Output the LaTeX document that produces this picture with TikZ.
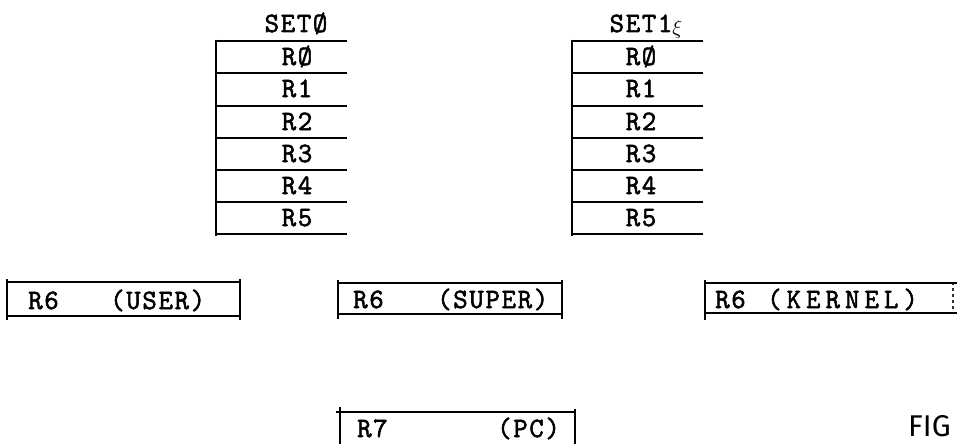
\documentclass[tikz,border=0pt]{standalone}
\usepackage{fontspec}
\newfontfamily\tw[LetterSpace=6,FakeBold=2]{Latin Modern Mono}
\newfontfamily\twk[LetterSpace=18,FakeBold=2]{Latin Modern Mono}
\newfontfamily\hand{Fira Sans}
\begin{document}
\begin{tikzpicture}[x=1pt,y=-1pt,
  rule/.style={line width=1.7pt,black},
  thin rule/.style={line width=1.2pt,black!80},
  lbl/.style={font=\tw\fontsize{28}{28}\selectfont,inner sep=0pt,anchor=base},
  lblw/.style={font=\tw\fontsize{28}{28}\selectfont,inner sep=0pt,anchor=base west}]
\useasboundingbox (0,0) rectangle (957,444);
% ---------- SET0 ----------
\node[lbl] (s0) at (296,32) {SETØ};
\coordinate (s0t) at (216,40);
\coordinate (s0b) at (216,236);
\draw[rule] (s0t) -- (s0b);
\foreach \y [count=\i] in {41,73,106,138,170,202,234}{
  \coordinate (s0l\i) at (216,\y);
  \coordinate (s0r\i) at (347,\y);
  \draw[rule] (s0l\i) -- (s0r\i);
}
\foreach \t/\y [count=\i] in {RØ/65,R1/97,R2/130,R3/162,R4/194,R5/226}{
  \node[lbl] (s0n\i) at (297,\y) {\t};
}
% ---------- SET1 ----------
\node[lbl] (s1) at (641,32) {SET1\rlap{\raisebox{-0.2ex}{$\scriptstyle\xi$}}};
\coordinate (s1t) at (572,40);
\coordinate (s1b) at (572,236);
\draw[rule] (s1t) -- (s1b);
\foreach \y [count=\i] in {41,73,106,138,170,202,234}{
  \coordinate (s1l\i) at (572,\y);
  \coordinate (s1r\i) at (703,\y);
  \draw[rule] (s1l\i) -- (s1r\i);
}
\foreach \t/\y [count=\i] in {RØ/65,R1/97,R2/130,R3/162,R4/194,R5/226}{
  \node[lbl] (s1n\i) at (641,\y) {\t};
}
% ---------- R6 (USER) ----------
\coordinate (u1) at (7,279);  \coordinate (u2) at (7,320);
\coordinate (u3) at (240,279); \coordinate (u4) at (240,320);
\coordinate (u5) at (7,282);  \coordinate (u6) at (240,282);
\coordinate (u7) at (7,316);  \coordinate (u8) at (240,316);
\draw[rule] (u1) -- (u2); \draw[rule] (u3) -- (u4);
\draw[rule] (u5) -- (u6); \draw[rule] (u7) -- (u8);
\node[lblw] (ua) at (28,309) {R6};
\node[lblw] (ub) at (110,309) {(USER)};
% ---------- R6 (SUPER) ----------
\coordinate (p1) at (338,280); \coordinate (p2) at (338,319);
\coordinate (p3) at (562,280); \coordinate (p4) at (562,319);
\coordinate (p5) at (338,283); \coordinate (p6) at (562,283);
\coordinate (p7) at (338,314); \coordinate (p8) at (562,314);
\draw[rule] (p1) -- (p2); \draw[rule] (p3) -- (p4);
\draw[rule] (p5) -- (p6); \draw[rule] (p7) -- (p8);
\node[lblw] (pa) at (353,308) {R6};
\node[lblw] (pb) at (437,308) {(SUPER)};
% ---------- R6 (KERNEL) ----------
\coordinate (k1) at (705,280); \coordinate (k2) at (705,320);
\coordinate (k3) at (953,282); \coordinate (k4) at (953,314);
\coordinate (k5) at (705,283); \coordinate (k6) at (957,283);
\coordinate (k7) at (705,313); \coordinate (k8) at (957,313);
\draw[rule] (k1) -- (k2); \draw[thin rule,dashed] (k3) -- (k4);
\draw[rule] (k5) -- (k6); \draw[rule] (k7) -- (k8);
\node[lblw] (ka) at (715,308) {R6};
\node[lblw,font=\twk\fontsize{28}{28}\selectfont] (kb) at (767,308) {(KERNEL)};
% ---------- R7 (PC) ----------
\coordinate (r1) at (340,407); \coordinate (r2) at (340,444);
\coordinate (r3) at (575,409); \coordinate (r4) at (575,444);
\coordinate (r5) at (336,412); \coordinate (r6) at (575,412);
\draw[rule] (r1) -- (r2); \draw[rule] (r3) -- (r4);
\draw[rule] (r5) -- (r6);
\node[lblw] (ra) at (357,437) {R7};
\node[lblw] (rb) at (497,437) {(PC)};
% ---------- FIG ----------
\node[font=\hand\fontsize{30}{30}\selectfont,inner sep=0pt,anchor=base west] (fig) at (908,436) {FIG};
\end{tikzpicture}
\end{document}
